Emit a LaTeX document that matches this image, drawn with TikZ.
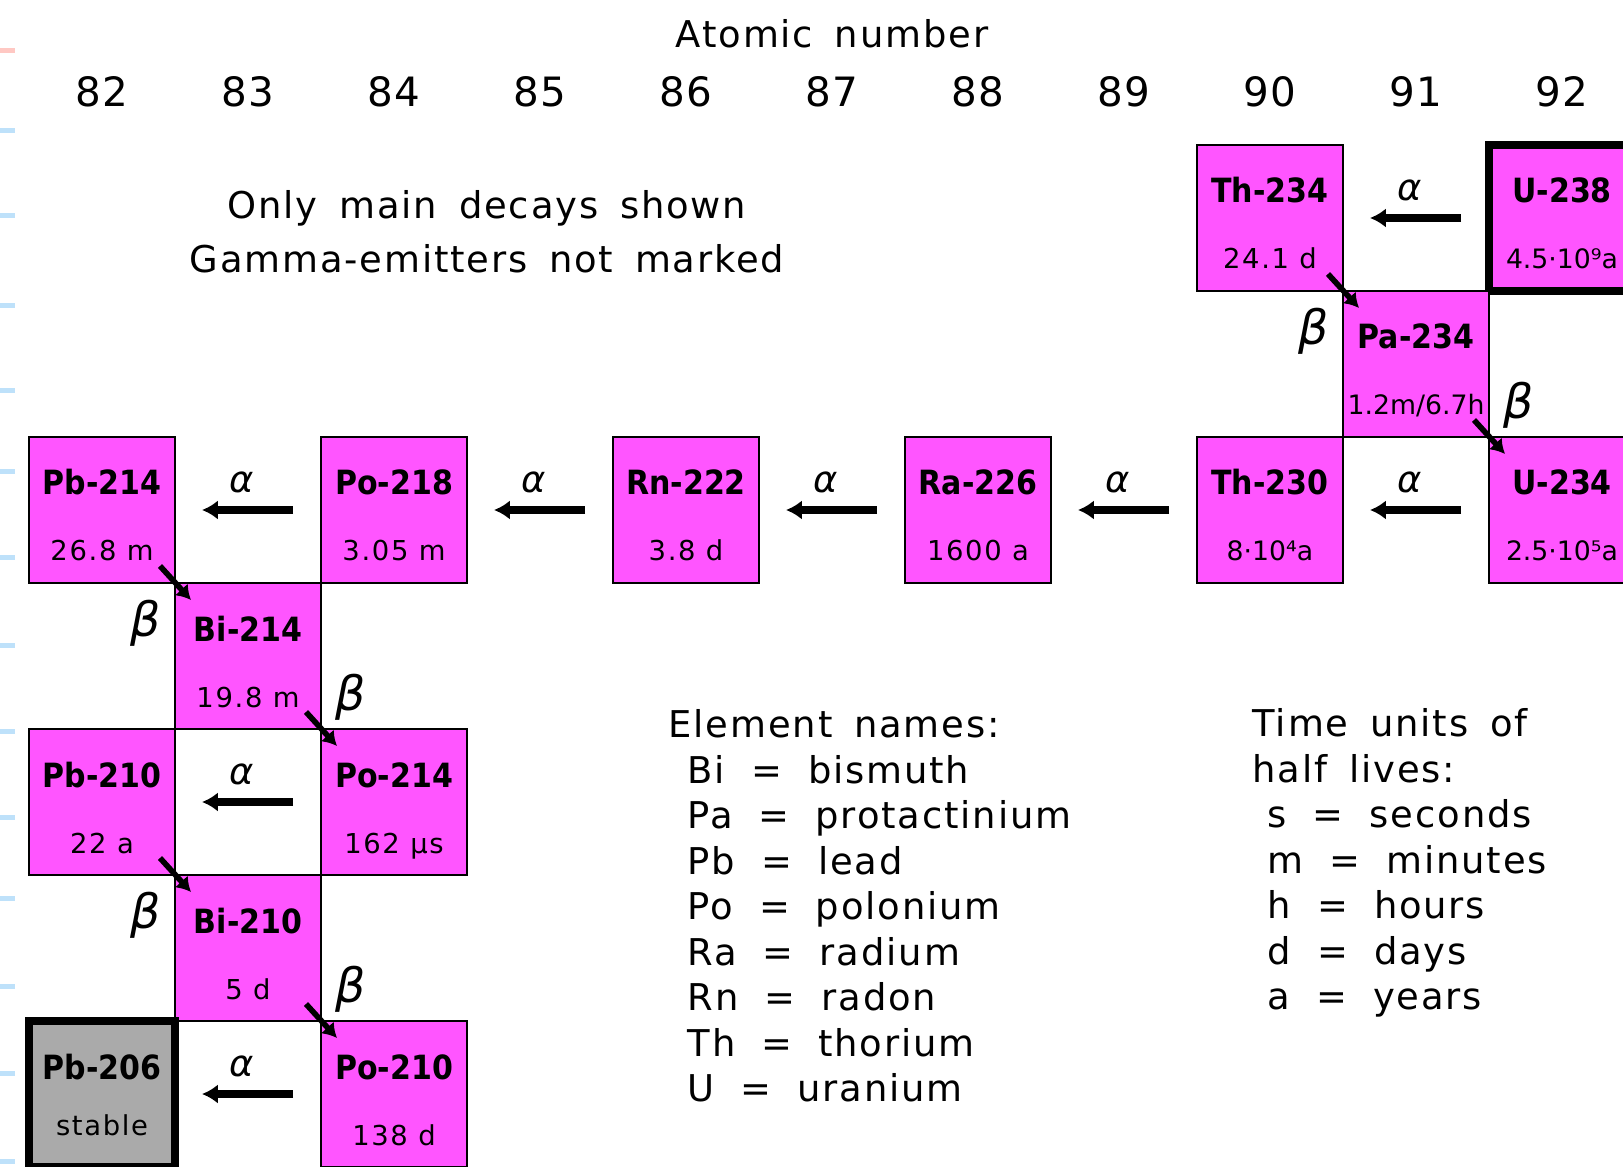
\documentclass[tikz,border=0pt]{standalone}
\usepackage{fontspec}
\setmainfont{DejaVu Sans}
\newfontfamily\chartfont[LetterSpace=5,WordSpace=1.6]{DejaVu Sans}
\newfontfamily\isofont[FakeStretch=0.9]{DejaVu Sans}
\newfontfamily\lifefont[LetterSpace=6]{DejaVu Sans}
\newfontfamily\densefont{DejaVu Sans}
\usetikzlibrary{positioning}
\usetikzlibrary{arrows.meta}
\definecolor{nucpink}{RGB}{255,85,255}
\definecolor{stablegray}{RGB}{170,170,170}
\definecolor{tickblue}{RGB}{190,225,250}
\definecolor{tickpink}{RGB}{255,200,195}
\newcommand{\eqs}{\hspace{2.6mm}=\hspace{2.6mm}}
\newcommand{\dense}{\densefont\fontsize{7.6}{9}\selectfont}

\begin{document}
\begin{tikzpicture}[node distance=2.92cm, on grid,
        nuc/.style={draw, line width=0.7pt, fill=nucpink, minimum size=1.46cm, inner sep=0pt, outer sep=0pt},
        endnuc/.style={nuc, line width=2.4pt},
        iso/.style={label={[anchor=base, yshift=-5.8mm, inner sep=0pt, font=\isofont\bfseries\fontsize{9.5}{10}\selectfont]north:#1}},
        halflife/.style={label={[anchor=base, yshift=2.2mm, inner sep=0pt, font=\lifefont\fontsize{7.8}{9}\selectfont]south:#1}},
        adecay/.style={line width=2pt, -{Latex[length=4.5pt,width=5.5pt]}, shorten <=2.8mm, shorten >=2.7mm},
        bdecay/.style={line width=1.6pt, -{Latex[length=4pt,width=5pt]}},
        alab/.style={above=1.4mm, xshift=-0.6mm, inner sep=0pt, font=\itshape\fontsize{10.5}{11}\selectfont},
        blab/.style={inner sep=0pt, font=\itshape\fontsize{13.5}{14}\selectfont},
        bleft/.style={blab, xshift=-3mm, yshift=-4mm},
        bright/.style={blab, xshift=2.9mm, yshift=3.2mm},
        chart/.style={inner sep=0pt, font=\chartfont\fontsize{10.5}{12.95}\selectfont}]

        \useasboundingbox (0,0) rectangle (16.23,-11.67);

        % margin marks
        \fill[tickpink] (0,-0.485) rectangle (0.15,-0.535);
        \foreach \ty in {131,216,306,391,472,558,645,731,817,898,986,1073,1161}
          \fill[tickblue] (0,{-\ty/100+0.025}) rectangle (0.15,{-\ty/100-0.025});

        % header
        \node[chart] (title) [anchor=base] at (8.32,-0.48) {Atomic number};
        \foreach \z [count=\i from 0] in {82,...,92}
          \node[chart, font=\chartfont\fontsize{11.5}{12}\selectfont, anchor=base] (z\z) at ({1.02+1.46*\i},-1.07) {\z};

        \node[chart, font=\chartfont\fontsize{10.5}{15.4}\selectfont, align=center, anchor=north] (note) at (4.87,-1.90)
          {Only main decays shown\\Gamma-emitters not marked};

        % nuclides
        \node[endnuc, iso=U-238, halflife={{\dense 4.5·10⁹a}}] (u238) at (15.62,-2.18) {};
        \node[nuc, iso=Th-234, halflife=24.1 d] (th234) [left=of u238] {};
        \node[nuc, iso=Pa-234, halflife={{\dense 1.2m/6.7h}}] (pa234) [below right=1.46cm and 1.46cm of th234] {};
        \node[nuc, iso=U-234, halflife={{\dense 2.5·10⁵a}}] (u234) [below=of u238] {};
        \node[nuc, iso=Th-230, halflife={{\dense 8·10⁴a}}] (th230) [left=of u234] {};
        \node[nuc, iso=Ra-226, halflife=1600 a] (ra226) [left=of th230] {};
        \node[nuc, iso=Rn-222, halflife=3.8 d] (rn222) [left=of ra226] {};
        \node[nuc, iso=Po-218, halflife=3.05 m] (po218) [left=of rn222] {};
        \node[nuc, iso=Pb-214, halflife=26.8 m] (pb214) [left=of po218] {};
        \node[nuc, iso=Bi-214, halflife=19.8 m] (bi214) [below right=1.46cm and 1.46cm of pb214] {};
        \node[nuc, iso=Po-214, halflife=162 μs] (po214) [below right=1.46cm and 1.46cm of bi214] {};
        \node[nuc, iso=Pb-210, halflife=22 a] (pb210) [left=of po214] {};
        \node[nuc, iso=Bi-210, halflife=5 d] (bi210) [below right=1.46cm and 1.46cm of pb210] {};
        \node[nuc, iso=Po-210, halflife=138 d] (po210) [below right=1.46cm and 1.46cm of bi210] {};
        \node[endnuc, fill=stablegray, iso=Pb-206, halflife={\raisebox{1mm}{stable}}] (pb206) [left=of po210] {};

        % alpha decays
        \draw[adecay] (u238.west) -- node[alab] {α} (th234.east);
        \draw[adecay] (u234.west) -- node[alab] {α} (th230.east);
        \draw[adecay] (th230.west) -- node[alab] {α} (ra226.east);
        \draw[adecay] (ra226.west) -- node[alab] {α} (rn222.east);
        \draw[adecay] (rn222.west) -- node[alab] {α} (po218.east);
        \draw[adecay] (po218.west) -- node[alab] {α} (pb214.east);
        \draw[adecay] (po214.west) -- node[alab] {α} (pb210.east);
        \draw[adecay] (po210.west) -- node[alab] {α} (pb206.east);

        % beta decays
        \draw[bdecay] ([shift={(-1.5mm,1.7mm)}]th234.south east) -- node[bleft] {β} ([shift={(1.6mm,-1.7mm)}]pa234.north west);
        \draw[bdecay] ([shift={(-1.5mm,1.7mm)}]pa234.south east) -- node[bright] {β} ([shift={(1.6mm,-1.7mm)}]u234.north west);
        \draw[bdecay] ([shift={(-1.5mm,1.7mm)}]pb214.south east) -- node[bleft] {β} ([shift={(1.6mm,-1.7mm)}]bi214.north west);
        \draw[bdecay] ([shift={(-1.5mm,1.7mm)}]bi214.south east) -- node[bright] {β} ([shift={(1.6mm,-1.7mm)}]po214.north west);
        \draw[bdecay] ([shift={(-1.5mm,1.7mm)}]pb210.south east) -- node[bleft] {β} ([shift={(1.6mm,-1.7mm)}]bi210.north west);
        \draw[bdecay] ([shift={(-1.5mm,1.7mm)}]bi210.south east) -- node[bright] {β} ([shift={(1.6mm,-1.7mm)}]po210.north west);

        % legends
        \node[chart, align=left, anchor=north west] (names) at (6.68,-7.09)
          {Element names:\\
           \hspace*{1.9mm}Bi\eqs bismuth\\
           \hspace*{1.9mm}Pa\eqs protactinium\\
           \hspace*{1.9mm}Pb\eqs lead\\
           \hspace*{1.9mm}Po\eqs polonium\\
           \hspace*{1.9mm}Ra\eqs radium\\
           \hspace*{1.9mm}Rn\eqs radon\\
           \hspace*{1.9mm}Th\eqs thorium\\
           \hspace*{1.9mm}U\eqs uranium};
        \node[chart, align=left, anchor=north west] (units) at (12.52,-7.08)
          {Time units of\\
           half lives:\\
           \hspace*{1.5mm}s\eqs seconds\\
           \hspace*{1.5mm}m\eqs minutes\\
           \hspace*{1.5mm}h\eqs hours\\
           \hspace*{1.5mm}d\eqs days\\
           \hspace*{1.5mm}a\eqs years};

\end{tikzpicture}
\end{document}
